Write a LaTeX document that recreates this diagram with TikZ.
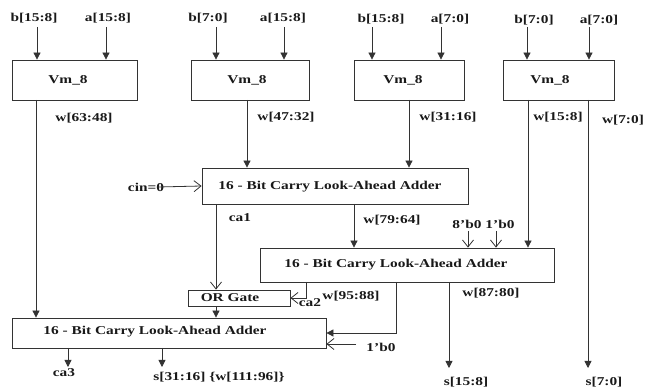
\documentclass[tikz,border=0pt]{standalone}
\usepackage{fontspec}
\setmainfont[FakeStretch=1.28]{Liberation Serif}
\usetikzlibrary{arrows.meta}
\begin{document}
\begin{tikzpicture}[x=1pt,y=-1pt,
  font=\bfseries\fontsize{12}{14}\selectfont,
  box/.style={draw=black!80,line width=0.8pt,inner sep=0pt},
  txt/.style={inner sep=0pt,text=black!90},
  ln/.style={draw=black!80,line width=0.8pt},
  arr/.style={ln,-{Triangle[length=7pt,width=7pt]}},
  oarr/.style={ln,-{Straight Barb[length=7pt,width=11pt]}}]
\useasboundingbox (0,0) rectangle (646,387);
% Vm_8 boxes
\node[box,minimum width=125pt,minimum height=40pt] (v1) at (74.5,80) {};
\node[box,minimum width=118pt,minimum height=40pt] (v2) at (250,80) {};
\node[box,minimum width=110pt,minimum height=40pt] (v3) at (409,80) {};
\node[box,minimum width=111pt,minimum height=40pt] (v4) at (558.5,80) {};
\node[txt] (v1t) at (68,80) {Vm\_8};
\node[txt] (v2t) at (247,80) {Vm\_8};
\node[txt] (v3t) at (403,80) {Vm\_8};
\node[txt] (v4t) at (550,80) {Vm\_8};
% adders
\node[box,minimum width=266pt,minimum height=36pt] (a1) at (335,186) {};
\node[txt] (a1t) at (330,187) {16 - Bit Carry Look-Ahead Adder};
\node[box,minimum width=294pt,minimum height=34pt] (a2) at (407,265) {};
\node[txt] (a2t) at (396,265) {16 - Bit Carry Look-Ahead Adder};
\node[box,minimum width=314pt,minimum height=30pt] (ba) at (169,333) {};
\node[txt] (bat) at (155,332) {16 - Bit Carry Look-Ahead Adder};
\node[box,minimum width=102pt,minimum height=16pt] (or) at (239,298) {};
\node[txt] (ort) at (230,298) {OR Gate};
% input labels
\node[txt] (l1b) at (34,18) {b[15:8]};
\node[txt] (l1a) at (108,18) {a[15:8]};
\node[txt] (l2b) at (208,18) {b[7:0]};
\node[txt] (l2a) at (283,18) {a[15:8]};
\node[txt] (l3b) at (381,19) {b[15:8]};
\node[txt] (l3a) at (450,19) {a[7:0]};
\node[txt] (l4b) at (534,20) {b[7:0]};
\node[txt] (l4a) at (599,20) {a[7:0]};
\coordinate (i1b) at (37,27); \coordinate (i1a) at (106,27);
\coordinate (i2b) at (216,27); \coordinate (i2a) at (284,27);
\coordinate (i3b) at (372,27); \coordinate (i3a) at (441,27);
\coordinate (i4b) at (527,27); \coordinate (i4a) at (589,27);
\foreach \c/\b in {i1b/v1,i1a/v1,i2b/v2,i2a/v2,i3b/v3,i3a/v3,i4b/v4,i4a/v4}
  \draw[arr] (\c) -- (\c |- \b.north);
% output labels
\node[txt] (w1) at (84,118) {w[63:48]};
\node[txt] (w2) at (286,117) {w[47:32]};
\node[txt] (w3) at (448,117) {w[31:16]};
\node[txt] (w4) at (558,117) {w[15:8]};
\node[txt] (w5) at (623,120) {w[7:0]};
\coordinate (o1) at (36,100);
\coordinate (o2) at (247,100);
\coordinate (o3) at (409,100);
\coordinate (o4) at (528,100);
\coordinate (o5) at (588,100);
\coordinate (s70) at (588,368);
\draw[arr] (o1) -- (o1 |- ba.north);
\draw[arr] (o2) -- (o2 |- a1.north);
\draw[arr] (o3) -- (o3 |- a1.north);
\draw[arr] (o4) -- (o4 |- a2.north);
\draw[arr] (o5) -- (s70);
% cin
\node[txt] (cin) at (146,187) {cin=0};
\coordinate (cins) at (158,187);
\draw[oarr] (cins) -- (a1.west);
% ca1
\node[txt] (ca1) at (240,218) {ca1};
\coordinate (c1) at (216,204);
\draw[oarr] (c1) -- (c1 |- or.north);
\draw[arr] (c1 |- or.south) -- (c1 |- ba.north);
% w[79:64]
\node[txt] (w79) at (392,220) {w[79:64]};
\coordinate (c79) at (354,204);
\draw[arr] (c79) -- (c79 |- a2.north);
% 8'b0, 1'b0
\node[txt] (z8) at (467,224) {8'b0};
\node[txt] (z1) at (500,224) {1'b0};
\coordinate (z8s) at (468,231);
\coordinate (z1s) at (496,231);
\draw[oarr] (z8s) -- (z8s |- a2.north);
\draw[oarr] (z1s) -- (z1s |- a2.north);
% ca2
\node[txt] (ca2) at (310,303) {ca2};
\node[txt] (w95) at (351,296) {w[95:88]};
\coordinate (c2) at (306,282);
\draw[oarr] (c2) |- (or.east);
\coordinate (c95) at (396,282);
\draw[arr] (c95) |- (ba.east);
% 1'b0 bottom
\node[txt] (z1b) at (381,347) {1'b0};
\coordinate (z1bs) at (356,344);
\draw[oarr] (z1bs) -- (z1bs -| ba.east);
% w[87:80], s[15:8]
\node[txt] (w87) at (491,293) {w[87:80]};
\coordinate (c15) at (449,282);
\coordinate (s15e) at (449,368);
\draw[arr] (c15) -- (s15e);
\node[txt] (s15) at (466,382) {s[15:8]};
\node[txt] (s7) at (604,382) {s[7:0]};
% bottom outputs
\coordinate (c3) at (68,348);
\coordinate (c3e) at (68,367);
\draw[arr] (c3) -- (c3e);
\node[txt] (ca3) at (64,373) {ca3};
\coordinate (c31) at (162,348);
\coordinate (c31e) at (162,367);
\draw[arr] (c31) -- (c31e);
\node[txt] (s31) at (219,377) {s[31:16] \{w[111:96]\}};
\end{tikzpicture}
\end{document}
